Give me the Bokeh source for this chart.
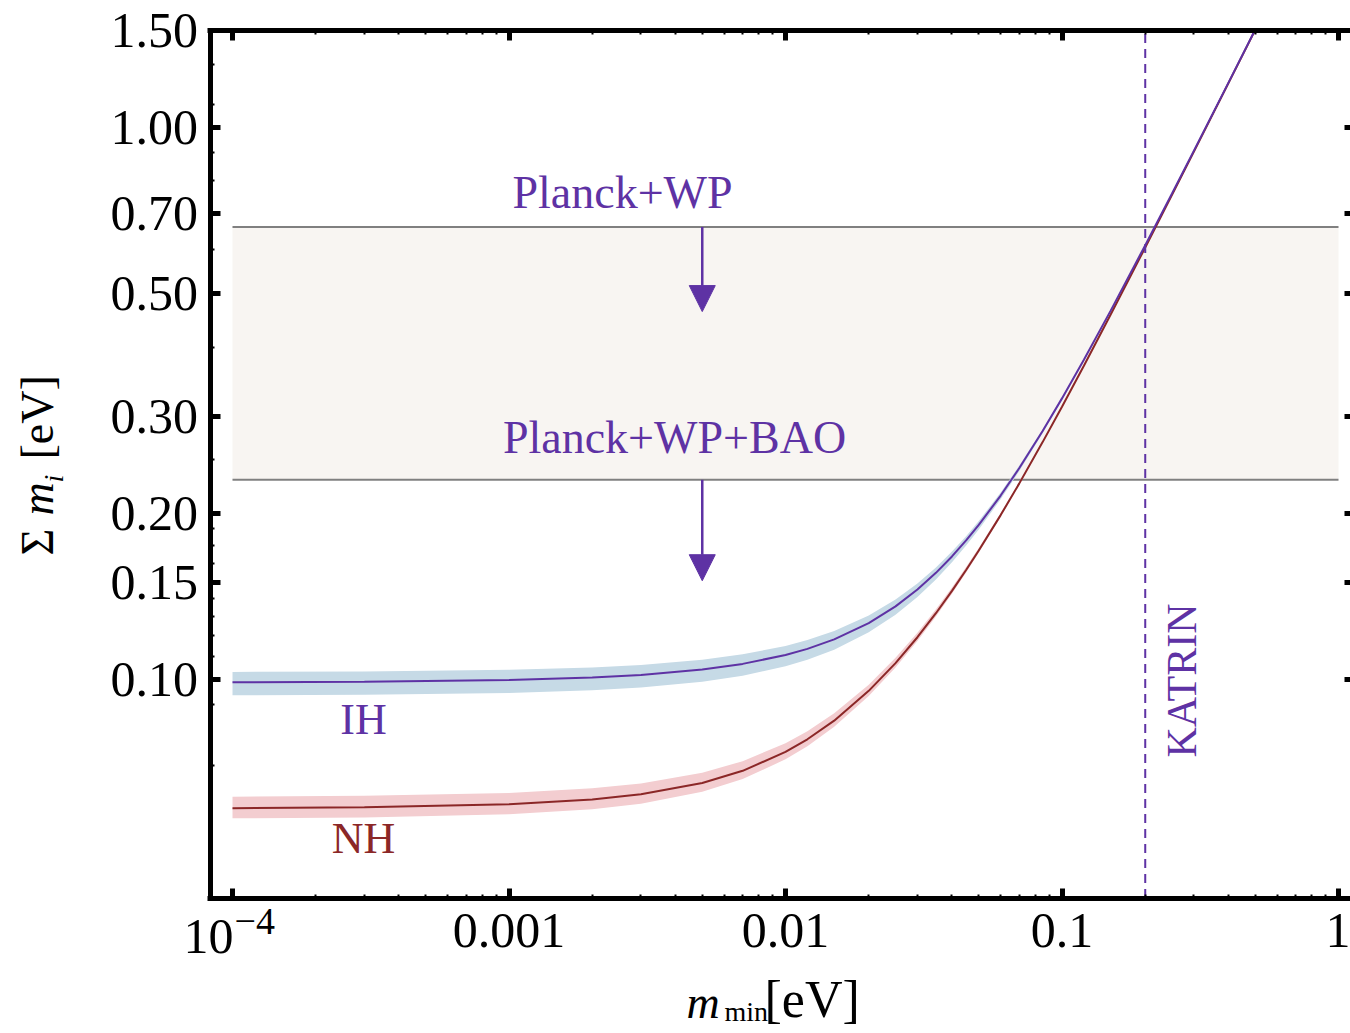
from math import pi
from bokeh.plotting import figure
from bokeh.models import (Range1d, FixedTicker, LogAxis, Label, Arrow,
                          NormalHead, ColumnDataSource, CustomJSTickFormatter)
from bokeh.embed import file_html
from bokeh.resources import INLINE

# ---------------- data ----------------
m_min = [1e-4, 3e-4, 1e-3, 2e-3, 3e-3, 5e-3, 7e-3, 0.01, 0.012, 0.015, 0.02,
         0.025, 0.03, 0.035, 0.04, 0.045, 0.05, 0.06, 0.07, 0.085, 0.1, 0.12,
         0.15, 0.2, 0.25, 0.3, 0.4, 0.5]
nh_sum = [0.05846, 0.05867, 0.05943, 0.06063, 0.06196, 0.06495, 0.06833, 0.07392,
          0.07793, 0.08423, 0.09537, 0.10709, 0.11928, 0.13184, 0.14472, 0.15787,
          0.17124, 0.19853, 0.22638, 0.26890, 0.31204, 0.37020, 0.45827, 0.60627,
          0.75504, 0.90421, 1.20317, 1.50254]
nh_upper = [0.06135, 0.06156, 0.06231, 0.06351, 0.06482, 0.06778, 0.07112, 0.07665,
            0.08061, 0.08685, 0.09788, 0.10949, 0.12157, 0.13403, 0.14680, 0.15985,
            0.17312, 0.20023, 0.22793, 0.27025, 0.31323, 0.37122, 0.45911, 0.60691,
            0.75556, 0.90465, 1.20350, 1.50280]
nh_lower = [0.05605, 0.05626, 0.05702, 0.05823, 0.05957, 0.06260, 0.06602, 0.07168,
            0.07573, 0.08210, 0.09333, 0.10515, 0.11743, 0.13009, 0.14306, 0.15630,
            0.16975, 0.19719, 0.22517, 0.26785, 0.31111, 0.36940, 0.45762, 0.60577,
            0.75464, 0.90388, 1.20291, 1.50233]
ih_sum = [0.09884, 0.09904, 0.09976, 0.10082, 0.10192, 0.10424, 0.10673, 0.11074,
          0.11361, 0.11820, 0.12653, 0.13568, 0.14554, 0.15604, 0.16708, 0.17860,
          0.19053, 0.21540, 0.24132, 0.28160, 0.32305, 0.37952, 0.46583, 0.61201,
          0.75966, 0.90807, 1.20607, 1.50486]
ih_upper = [0.10320, 0.10340, 0.10412, 0.10518, 0.10627, 0.10858, 0.11105, 0.11502,
            0.11786, 0.12238, 0.13059, 0.13958, 0.14929, 0.15962, 0.17050, 0.18186,
            0.19363, 0.21821, 0.24387, 0.28382, 0.32501, 0.38121, 0.46722, 0.61307,
            0.76052, 0.90879, 1.20662, 1.50530]
ih_lower = [0.09364, 0.09384, 0.09456, 0.09562, 0.09673, 0.09907, 0.10158, 0.10565,
            0.10857, 0.11323, 0.12173, 0.13106, 0.14113, 0.15183, 0.16308, 0.17481,
            0.18693, 0.21215, 0.23837, 0.27904, 0.32079, 0.37759, 0.46425, 0.61079,
            0.75868, 0.90725, 1.20544, 1.50437]

planck_x = [1e-4, 1.0]                 # extent of the cosmological band
planck_limits = [0.23, 0.66]           # Planck+WP+BAO, Planck+WP
arrow_x = 0.005
arrow_tips = [0.464, 0.151]            # arrows from 0.66 and 0.23
katrin_limit = 0.2

x_ticks = [1e-4, 1e-3, 1e-2, 1e-1, 1.0]
x_tick_labels = [" ", "0.001", "0.01", "0.1", "1"]
x_minor = [k * 10.0 ** e for e in (-4, -3, -2, -1) for k in range(2, 10)]
y_ticks = [0.10, 0.15, 0.20, 0.30, 0.50, 0.70, 1.00, 1.50]
y_tick_labels = ["0.10", "0.15", "0.20", "0.30", "0.50", "0.70", "1.00", "1.50"]
y_minor = [0.07, 0.09, 0.11, 0.12, 0.13, 0.14, 0.1625, 0.175, 0.1875, 0.25,
           0.4, 0.6, 0.8, 0.9, 1.1, 1.3]

# ---------------- styling / layout ----------------
PURPLE = "#5e32a4"
DARKRED = "#8b2727"
BLUE_BAND = "#c6dae6"
PINK_BAND = "#f3cdd0"
BEIGE = "#f8f5f2"
GREY = "#808080"
FONT = "Liberation Serif"
W, H = 1350, 1033


# pixel -> data mapping of the (full-canvas) frame: 1e-4 at x=232, 276.5 px/decade;
# 0.1 at y=679, 552 px/decade
def px_x(px):
    return 10 ** (-4 + (px - 232) / 276.5)


def px_y(py):
    return 10 ** (-1 - (py - 679) / 552)


p = figure(width=W, height=H, x_axis_type="log", y_axis_type="log",
           x_range=Range1d(px_x(0), px_x(W)), y_range=Range1d(px_y(H), px_y(0)),
           output_backend="svg", toolbar_location=None, min_border=0)
p.grid.visible = False
p.outline_line_color = None
p.background_fill_color = "white"
p.border_fill_color = "white"

FMT_CODE = """
let best = 0, d = Infinity;
for (let i = 0; i < tv.length; i++) {
  const e = Math.abs(Math.log10(tv[i]) - Math.log10(tick));
  if (e < d) { d = e; best = i; }
}
return tl[best];
"""


def style_axis(ax, ticks, minor, labels, loc, bounds, show_labels=True):
    ax.ticker = FixedTicker(ticks=ticks, minor_ticks=minor)
    ax.formatter = CustomJSTickFormatter(args=dict(tv=ticks, tl=labels),
                                         code=FMT_CODE)
    ax.fixed_location = loc
    ax.bounds = bounds
    ax.axis_line_width = 5
    ax.axis_line_color = "black"
    ax.major_tick_in = 10
    ax.major_tick_out = 0
    ax.major_tick_line_width = 5
    ax.minor_tick_in = 4
    ax.minor_tick_out = 0
    ax.minor_tick_line_width = 2
    ax.major_label_text_font = FONT
    ax.major_label_text_font_size = "50px"
    ax.major_label_text_color = "black"
    if not show_labels:
        ax.major_label_text_font_size = "2px"
        ax.major_label_text_alpha = 0


XB = (px_x(207), px_x(1350))
YB = (px_y(900), px_y(27.5))

xa = p.xaxis[0]
style_axis(xa, x_ticks, x_minor, x_tick_labels, px_y(897.5), XB)
xa.major_label_standoff = 4

ya = p.yaxis[0]
style_axis(ya, y_ticks, y_minor, y_tick_labels, px_x(209.5), YB)
ya.major_label_standoff = 12

top = LogAxis()
style_axis(top, x_ticks, x_minor, [" "] * len(x_ticks), px_y(30), XB, False)
p.add_layout(top, "above")

right = LogAxis()
style_axis(right, y_ticks, y_minor, [" "] * len(y_ticks), px_x(1354), YB, False)
p.add_layout(right, "right")

# ---------------- cosmological band ----------------
p.quad(left=[planck_x[0]], right=[planck_x[1]], bottom=[planck_limits[0]],
       top=[planck_limits[1]], fill_color=BEIGE, line_color=None)
p.segment(x0=[planck_x[0]] * 2, x1=[planck_x[1]] * 2, y0=planck_limits,
          y1=planck_limits, line_color=GREY, line_width=2)

# ---------------- curves ----------------
src = ColumnDataSource(dict(m=m_min, nh=nh_sum, nh_hi=nh_upper, nh_lo=nh_lower,
                            ih=ih_sum, ih_hi=ih_upper, ih_lo=ih_lower))
p.varea(x="m", y1="nh_lo", y2="nh_hi", source=src, fill_color=PINK_BAND)
p.varea(x="m", y1="ih_lo", y2="ih_hi", source=src, fill_color=BLUE_BAND)
p.line(x="m", y="nh", source=src, line_color=DARKRED, line_width=2)
p.line(x="m", y="ih", source=src, line_color=PURPLE, line_width=2)

# KATRIN limit: dashed line spanning the plot frame
p.segment(x0=[katrin_limit], x1=[katrin_limit], y0=[px_y(897.5)], y1=[px_y(30)],
          line_color=PURPLE, line_width=2, line_dash="9 6")

# arrows
for start, tip in zip(reversed(planck_limits), arrow_tips):
    p.add_layout(Arrow(end=NormalHead(size=26, fill_color=PURPLE, line_color=PURPLE),
                       x_start=arrow_x, y_start=start, x_end=arrow_x, y_end=tip,
                       line_color=PURPLE, line_width=2.5))


def lab(text, px, py, size, color="black", align="left", angle=0.0,
        style="normal"):
    p.add_layout(Label(x=px_x(px), y=px_y(py), text=text, text_font=FONT,
                       text_font_size=f"{size}px", text_color=color,
                       text_align=align, text_baseline="middle", angle=angle,
                       text_font_style=style))


lab("Planck+WP", 622, 192, 46, PURPLE, "center")
lab("Planck+WP+BAO", 674, 437, 46, PURPLE, "center")
lab("IH", 363, 719, 44, PURPLE, "center")
lab("NH", 363, 838, 44, DARKRED, "center")
lab("KATRIN", 1181, 680, 42, PURPLE, "center", angle=pi / 2)

# x tick label 10^-4
lab("10", 233, 936, 50, "black", "right")
lab("\u22124", 234, 921, 38, "black", "left")

# x axis label: m_min[eV]
lab("m", 686, 1002, 46, style="italic")
lab("min", 724, 1011, 28)
lab("[eV]", 764, 999, 52)

# y axis label: Σ m_i [eV] (rotated)
lab("\u03a3", 37, 555, 46, angle=pi / 2)
lab("m", 37, 515, 46, angle=pi / 2, style="italic")
lab("i", 53, 482, 28, angle=pi / 2, style="italic")
lab("[eV]", 37, 459, 46, angle=pi / 2)

open("out.html", "w").write(file_html(p, INLINE))
